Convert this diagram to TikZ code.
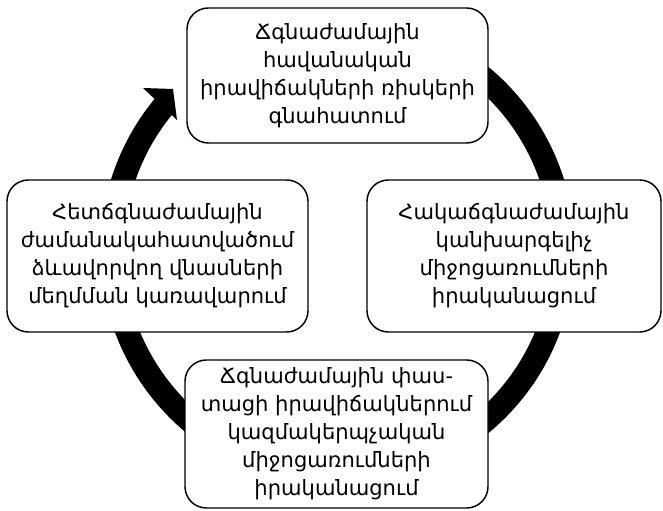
\documentclass[tikz,border=0pt]{standalone}
\usepackage{fontspec}
\newfontfamily\armfont{DejaVu Sans}
\begin{document}
\begin{tikzpicture}[x=0.75pt,y=0.75pt,
  box/.style={draw=black, line width=1.1pt, fill=white, rounded corners=16pt,
    align=center, inner sep=0pt, font=\armfont\fontsize{15.8}{21}\selectfont},
  ring/.style={line width=17.6pt, draw=black}]
\useasboundingbox (0,0) rectangle (663,510);
\coordinate (c) at (337.5,260);
% circular arrow
\draw[ring] (c) ++(80:225.5) arc[start angle=80, end angle=-220.5, radius=225.5];
\coordinate (wl) at (143,422);
\coordinate (tip) at (173,421);
\coordinate (wr) at (177,390);
\fill[black] (wl) -- (tip) -- (wr) -- cycle;
% boxes
\node[box, minimum width=225.75pt, minimum height=101.25pt] (top) at (337.5,434.5)
  {Ճգնաժամային\\հավանական\\իրավիճակների ռիսկերի\\գնահատում};
\node[box, minimum width=220.5pt, minimum height=114pt] (right) at (514,254)
  {Հակաճգնաժամային\\կանխարգելիչ\\միջոցառումների\\իրականացում};
\node[box, minimum width=227.25pt, minimum height=111pt] (bottom) at (336.5,76)
  {Ճգնաժամային փաս-\\տացի իրավիճակներում\\կազմակերպչական\\միջոցառումների\\իրականացում};
\node[box, minimum width=225.75pt, minimum height=114pt] (left) at (157.5,254)
  {Հետճգնաժամային\\ժամանակահատվածում\\ձևավորվող վնասների\\մեղմման կառավարում};
\end{tikzpicture}
\end{document}
